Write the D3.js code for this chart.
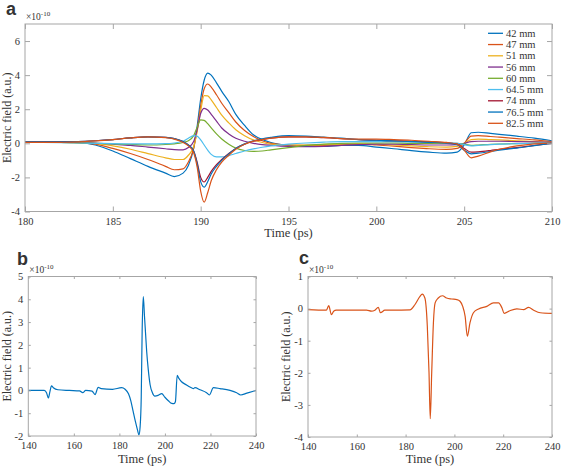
<!DOCTYPE html>
<html><head><meta charset="utf-8">
<script src="https://cdn.jsdelivr.net/npm/d3@7"></script>
<style>
body{margin:0;background:#fff}
svg text{font-family:"Liberation Serif","Times New Roman",serif;fill:#333}
</style></head>
<body><svg id="chart" width="561" height="466"></svg>
<script>
// ---------- Panel a data ----------
const timeA = [180,181,182,183,184,185,186,187,188,188.5,189,189.3,189.6,189.8,190,190.2,190.4,190.6,190.9,191.2,191.6,192,192.5,193,193.5,194,195,196,197,198,199,200,201,202,203,204,204.6,205,205.4,205.8,206.5,207,208,209,210];
const s42  = [0.08,0.08,0.08,0.06,-0.1,-0.45,-0.9,-1.35,-1.75,-1.95,-1.75,-1.3,-0.3,1.0,2.6,3.7,4.12,4.0,3.55,3.05,2.45,1.7,1.05,0.5,0.22,0.05,-0.12,-0.18,-0.18,-0.12,-0.12,-0.22,-0.32,-0.43,-0.52,-0.58,-0.52,-0.1,0.62,0.65,0.58,0.53,0.42,0.3,0.15];
const s47  = [0.05,0.05,0.05,0.04,-0.05,-0.3,-0.6,-0.95,-1.35,-1.55,-1.5,-1.1,-0.3,0.8,2.2,3.2,3.48,3.3,2.85,2.35,1.8,1.25,0.75,0.4,0.15,0.0,-0.1,-0.12,-0.12,-0.08,-0.05,-0.1,-0.17,-0.25,-0.32,-0.35,-0.3,0.0,0.42,0.45,0.4,0.36,0.28,0.2,0.1];
const s51  = [0.05,0.05,0.05,0.04,0.0,-0.15,-0.35,-0.6,-0.85,-0.95,-0.95,-0.7,-0.2,0.7,1.9,2.8,2.78,2.55,2.1,1.65,1.2,0.8,0.45,0.2,0.05,-0.05,-0.1,-0.1,-0.08,-0.05,-0.02,-0.05,-0.1,-0.15,-0.2,-0.22,-0.18,0.0,0.22,0.25,0.22,0.2,0.15,0.1,0.05];
const s56  = [0.08,0.08,0.08,0.06,0.02,-0.05,-0.12,-0.22,-0.32,-0.37,-0.38,-0.25,0.1,0.8,1.75,2.05,1.95,1.7,1.3,0.9,0.55,0.3,0.12,0.0,-0.08,-0.12,-0.18,-0.2,-0.18,-0.12,-0.08,-0.05,-0.05,-0.07,-0.1,-0.1,-0.08,0.0,0.1,0.12,0.12,0.12,0.1,0.08,0.05];
const s60  = [0.05,0.05,0.05,0.03,0.0,-0.04,-0.07,-0.1,-0.07,-0.03,0.05,0.15,0.45,0.95,1.38,1.35,1.15,0.9,0.55,0.25,-0.05,-0.28,-0.42,-0.47,-0.45,-0.38,-0.25,-0.12,-0.05,0.0,0.02,0.02,0.02,0.0,0.0,0.0,0.0,-0.05,-0.12,-0.1,-0.06,-0.04,-0.02,0.0,0.0];
const s645 = [0.05,0.05,0.04,0.02,0.0,-0.02,-0.03,-0.03,-0.02,0.02,0.12,0.3,0.45,0.42,0.2,-0.1,-0.4,-0.65,-0.8,-0.8,-0.72,-0.6,-0.45,-0.33,-0.23,-0.15,-0.05,0.02,0.07,0.1,0.1,0.1,0.1,0.08,0.06,0.03,0.0,-0.08,-0.15,-0.12,-0.08,-0.05,-0.02,0.0,0.02];
const s74  = [0.08,0.08,0.08,0.1,0.15,0.22,0.32,0.38,0.35,0.28,0.1,-0.1,-0.45,-1.1,-2.0,-2.27,-2.0,-1.65,-1.25,-0.95,-0.6,-0.3,-0.05,0.12,0.22,0.3,0.38,0.38,0.33,0.28,0.22,0.18,0.15,0.12,0.08,0.03,-0.05,-0.3,-0.52,-0.5,-0.42,-0.35,-0.25,-0.12,0.0];
const s765 = [0.08,0.08,0.08,0.1,0.15,0.22,0.32,0.38,0.35,0.28,0.1,-0.1,-0.45,-1.2,-2.25,-2.57,-2.25,-1.8,-1.35,-1.0,-0.62,-0.3,-0.03,0.15,0.27,0.35,0.45,0.42,0.36,0.3,0.22,0.18,0.14,0.1,0.06,0.02,-0.08,-0.4,-0.62,-0.58,-0.48,-0.4,-0.28,-0.14,0.0];
const s825 = [0.05,0.05,0.06,0.08,0.14,0.22,0.32,0.38,0.33,0.25,0.05,-0.15,-0.55,-1.4,-2.8,-3.45,-2.9,-2.2,-1.55,-1.1,-0.7,-0.35,-0.05,0.13,0.22,0.3,0.38,0.38,0.35,0.28,0.25,0.25,0.22,0.18,0.12,0.05,-0.05,-0.4,-0.85,-0.75,-0.5,-0.35,-0.15,-0.03,0.02];
const seriesA = [s42,s47,s51,s56,s60,s645,s74,s765,s825];
const legendLabels = ["42 mm","47 mm","51 mm","56 mm","60 mm","64.5 mm","74 mm","76.5 mm","82.5 mm"];
const colorsA = ["#0072BD","#D95319","#EDB120","#7E2F8E","#77AC30","#4DBEEE","#A2142F","#0072BD","#D95319"];
const xTicksA = [180,185,190,195,200,205,210];
const yTicksA = [-4,-2,0,2,4,6];

// ---------- Panel b data (42 mm, full window) ----------
const timeB = [140,147,148,148.8,149.5,150.2,151,153,158,162.5,163.9,165.2,168,169.3,170.7,172,177,181,182.5,184,185,186,187,188,188.6,189.1,189.6,190,190.5,191,191.5,192,192.7,193.5,194.5,195.6,197,198.6,200,201.5,203,204,204.6,205.4,206,207.3,209.5,211,212.5,213.2,215.4,218.3,219.5,221.3,224.2,228.6,231.5,233.3,236,240];
const valB  = [0,0,-0.1,-0.33,-0.05,0.2,0.12,0.03,0.0,-0.02,-0.1,0.0,-0.03,-0.18,0.13,0.08,0.05,0.12,0.05,-0.15,-0.45,-0.9,-1.35,-1.75,-1.95,-1.6,-0.3,2.6,4.12,3.3,2.5,1.7,0.9,0.25,-0.1,-0.25,-0.22,-0.14,-0.3,-0.45,-0.57,-0.58,-0.5,0.66,0.55,0.38,0.24,0.15,0.08,0.12,0.03,-0.1,-0.2,0.12,0.08,0.0,-0.1,-0.2,-0.12,0.0];
const xTicksB = [140,160,180,200,220,240];
const yTicksB = [-2,-1,0,1,2,3,4,5];

// ---------- Panel c data (82.5 mm, full window) ----------
const timeC = [140,147.5,148.5,149.6,150.5,151.6,164,166,167.4,168.8,169.7,171.5,181.8,183.8,185.9,186.8,187.9,188.9,189.6,190.1,190.7,191.4,192.1,193.4,195.1,196.8,198.9,201,202.3,203.4,204.4,205.3,206.4,207.8,209.9,213.3,216,218.1,219.5,220.4,222.9,225.6,228.4,230.4,232.5,235.2,240];
const valC  = [-0.03,-0.05,0.09,-0.19,-0.08,-0.05,-0.05,-0.08,-0.05,0.04,-0.13,-0.05,-0.04,0.12,0.38,0.45,0.33,-0.55,-2.0,-3.43,-2.0,-0.44,0.18,0.33,0.4,0.33,0.3,0.28,0.23,0.07,-0.24,-0.86,-0.44,-0.13,-0.01,0.07,0.18,0.18,0.02,-0.15,-0.06,-0.01,-0.03,0.04,-0.05,-0.13,-0.15];
const xTicksC = [140,160,180,200,220,240];
const yTicksC = [-4,-3,-2,-1,0,1];

// ---------- drawing ----------
const svg = d3.select("#chart");
const AX = "#a6a6a6";
let clipId = 0;

function panel(cfg){
  const x = d3.scaleLinear().domain(cfg.xd).range([cfg.l, cfg.r]);
  const y = d3.scaleLinear().domain(cfg.yd).range([cfg.b, cfg.t]);
  const g = svg.append("g");
  const id = "clip" + (clipId++);
  g.append("clipPath").attr("id", id).append("rect")
    .attr("x", cfg.l).attr("y", cfg.t).attr("width", cfg.r - cfg.l).attr("height", cfg.b - cfg.t);
  const line = d3.line().x(d => x(d[0])).y(d => y(d[1])).curve(d3.curveMonotoneX);
  const lg = g.append("g").attr("clip-path", `url(#${id})`);
  cfg.series.forEach(s => {
    const pts = s.t.map((t,i) => [t, s.v[i]]).filter(p => p[1] !== undefined);
    lg.append("path").attr("d", line(pts)).attr("fill","none")
      .attr("stroke", s.color).attr("stroke-width", 1.2).attr("stroke-linejoin","round");
  });
  const tl = cfg.tl;
  const fmt = d => String(d);
  const style = sel => {
    sel.attr("font-family", null);
    sel.select(".domain").remove();
    sel.selectAll(".tick line").attr("stroke", AX).attr("stroke-width", 1);
    sel.selectAll(".tick text").attr("font-size", "10.5px").attr("fill", "#333")
      .style("font-family", '"Liberation Serif", serif');
  };
  g.append("g").attr("transform", `translate(0,${cfg.b})`)
    .call(d3.axisBottom(x).tickValues(cfg.xt).tickSizeInner(-tl).tickSizeOuter(0).tickPadding(6).tickFormat(fmt)).call(style);
  g.append("g").attr("transform", `translate(0,${cfg.t})`)
    .call(d3.axisTop(x).tickValues(cfg.xt).tickSizeInner(-tl).tickSizeOuter(0).tickFormat("")).call(style);
  g.append("g").attr("transform", `translate(${cfg.l},0)`)
    .call(d3.axisLeft(y).tickValues(cfg.yt).tickSizeInner(-tl).tickSizeOuter(0).tickPadding(5).tickFormat(fmt)).call(style);
  g.append("g").attr("transform", `translate(${cfg.r},0)`)
    .call(d3.axisRight(y).tickValues(cfg.yt).tickSizeInner(-tl).tickSizeOuter(0).tickFormat("")).call(style);
  g.append("rect").attr("x", cfg.l).attr("y", cfg.t).attr("width", cfg.r - cfg.l).attr("height", cfg.b - cfg.t)
    .attr("fill","none").attr("stroke", AX).attr("stroke-width", 1);
  // exponent label
  const ex = g.append("text").attr("x", cfg.l + 1).attr("y", cfg.t - 4).attr("font-size","9.5px").attr("fill","#444");
  ex.append("tspan").text("\u00d710");
  ex.append("tspan").attr("dy", -4).attr("font-size","7px").text("-10");
  // axis titles
  g.append("text").attr("x", (cfg.l + cfg.r)/2).attr("y", cfg.b + cfg.xtOff)
    .attr("text-anchor","middle").attr("font-size","12.5px").attr("fill","#333").text("Time (ps)");
  g.append("text").attr("transform", `translate(${cfg.ytX},${(cfg.t + cfg.b)/2}) rotate(-90)`)
    .attr("text-anchor","middle").attr("font-size","12px").attr("fill","#333").text("Electric field (a.u.)");
  // panel letter
  svg.append("text").attr("x", cfg.letter[0]).attr("y", cfg.letter[1])
    .style("font-family", '"Liberation Sans", Arial, sans-serif').attr("font-weight","bold")
    .attr("font-size","18px").attr("fill","#000").text(cfg.letter[2]);
  return {x, y, g};
}

const pa = panel({l:25, r:552, t:24, b:211.5, xd:[180,210], yd:[-4,7], xt:xTicksA, yt:yTicksA, tl:5,
  series: seriesA.map((v,i) => ({t: timeA, v, color: colorsA[i]})),
  xtOff: 25.5, ytX: 11, letter:[6, 15, "a"]});

// legend
const lgd = pa.g.append("g");
legendLabels.forEach((lab, i) => {
  const yy = 33.3 + i * 11.25;
  lgd.append("line").attr("x1", 488).attr("x2", 503).attr("y1", yy).attr("y2", yy)
    .attr("stroke", colorsA[i]).attr("stroke-width", 1.3);
  lgd.append("text").attr("x", 506).attr("y", yy + 3.6).attr("font-size","10.5px").attr("fill","#333").text(lab);
});

panel({l:28.3, r:256, t:276.5, b:436, xd:[140,240], yd:[-2,5], xt:xTicksB, yt:yTicksB, tl:2.5,
  series:[{t: timeB, v: valB, color:"#0072BD"}], xtOff: 27, ytX: 11, letter:[17, 265, "b"]});

panel({l:308, r:552, t:276.5, b:437, xd:[140,240], yd:[-4,1], xt:xTicksC, yt:yTicksC, tl:2.5,
  series:[{t: timeC, v: valC, color:"#D95319"}], xtOff: 26, ytX: 290, letter:[299, 264, "c"]});
</script>
</body></html>
